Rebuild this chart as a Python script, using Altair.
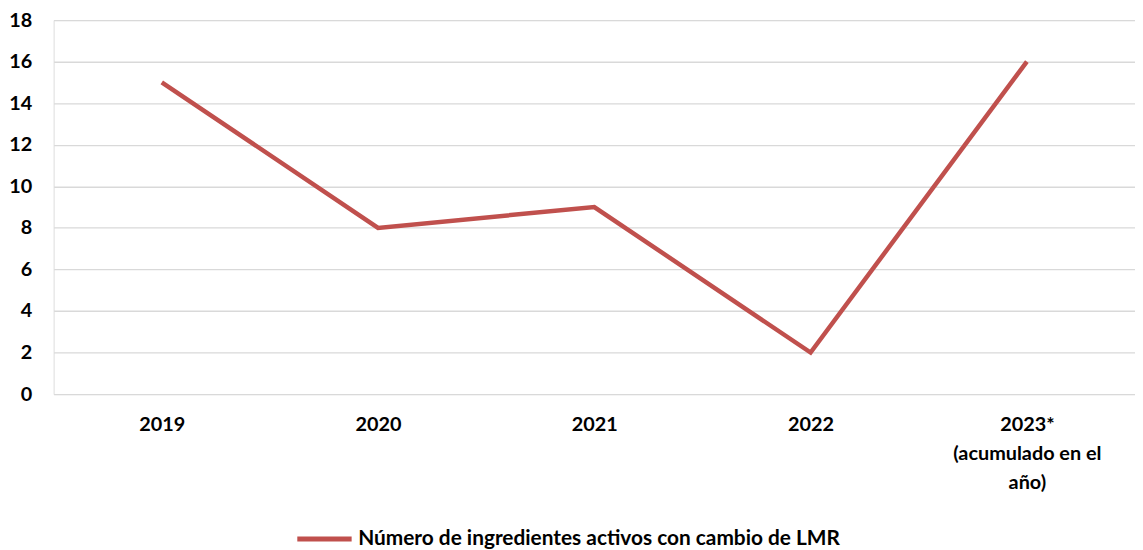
import altair as alt
import pandas as pd

categories = ["2019", "2020", "2021", "2022", "2023*|(acumulado en el|año)"]
values = [15, 8, 9, 2, 16]
series_name = "Número de ingredientes activos con cambio de LMR"

df = pd.DataFrame({"cat": categories, "val": values, "serie": [series_name] * len(values)})

FONT = "Lato"

chart = alt.Chart(df).mark_line(strokeWidth=4.5, strokeCap="butt", strokeJoin="miter").encode(
    x=alt.X("cat:N", sort=categories, title=None,
            scale=alt.Scale(type="point", padding=0.5),
            axis=alt.Axis(labelAngle=0, domain=False, ticks=False, grid=False,
                          labelExpr="split(datum.label, '|')",
                          labelFont=FONT, labelFontSize=20, labelFontWeight="bold",
                          labelColor="#000000", labelPadding=21, labelLineHeight=29,
                          labelBaseline="top")),
    y=alt.Y("val:Q", title=None, scale=alt.Scale(domain=[0, 18], nice=False),
            axis=alt.Axis(values=list(range(0, 19, 2)), domain=False, ticks=False,
                          gridColor="#D9D9D9", gridWidth=1.3,
                          labelFont=FONT, labelFontSize=20, labelFontWeight="bold",
                          labelColor="#000000", labelPadding=22)),
    color=alt.Color("serie:N", scale=alt.Scale(range=["#C0504D"]),
                    legend=alt.Legend(title=None, orient="none", legendX=243, legendY=493,
                                      symbolType="stroke", symbolSize=3000,
                                      symbolStrokeWidth=5, labelFont=FONT,
                                      labelFontSize=21, labelFontWeight="bold",
                                      labelColor="#000000", labelOffset=4,
                                      labelLimit=800)),
).properties(
    width=1090, height=377,
    autosize=alt.AutoSizeParams(type="none"),
    padding={"left": 46, "top": 10, "right": 0, "bottom": 155},
).configure_view(stroke=None).configure(background="white")

chart.save("out.html", embed_options={"renderer": "svg", "actions": False})
